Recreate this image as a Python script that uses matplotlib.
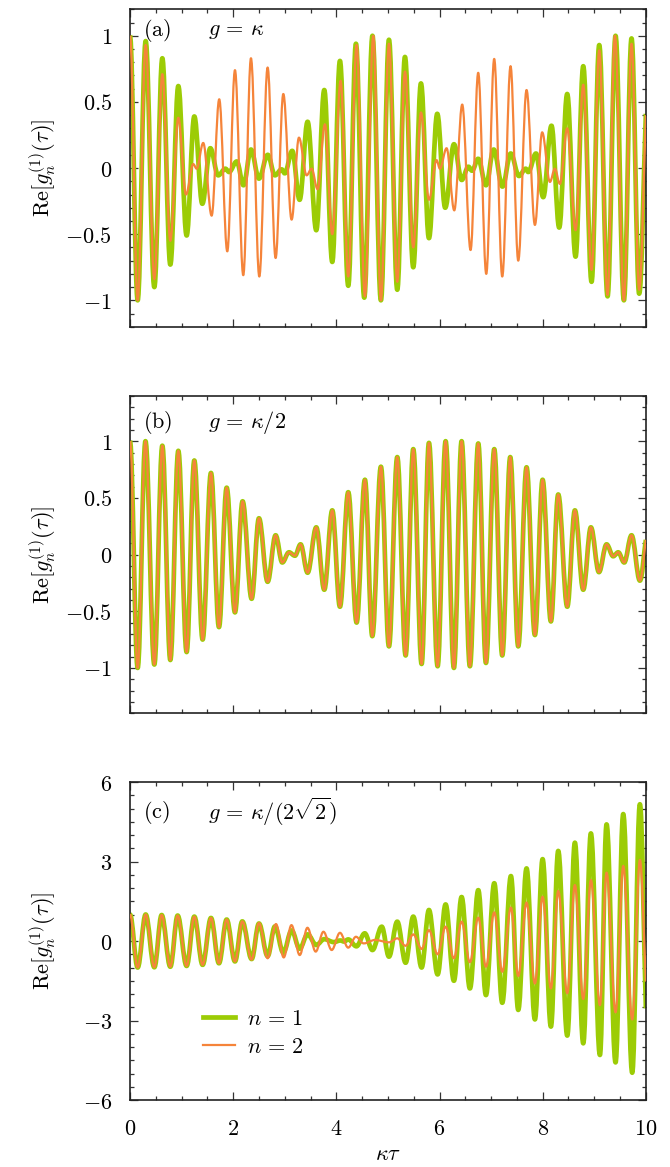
import matplotlib
matplotlib.use("Agg")
import matplotlib.pyplot as plt
from matplotlib.path import Path
from matplotlib.patches import PathPatch
from matplotlib.lines import Line2D
from matplotlib.ticker import MultipleLocator, FixedLocator, FixedFormatter

plt.rcParams['mathtext.fontset'] = 'cm'
plt.rcParams['font.family'] = ['DejaVu Serif']

# ---------------- data: successive extrema (tau, value) -------------
# panel (a)  g = kappa
a_n1_tau = [0.000, 0.149, 0.304, 0.472, 0.627, 0.782, 0.937, 1.098, 1.247, 1.402,
            1.557, 1.710, 1.850, 1.920, 2.070, 2.200, 2.345, 2.500, 2.670, 2.810,
            2.940, 3.000, 3.145, 3.288, 3.443, 3.611, 3.766, 3.921, 4.070, 4.231,
            4.380, 4.541, 4.700, 4.864, 5.020, 5.181, 5.330, 5.491, 5.640, 5.795,
            5.956, 6.110, 6.280, 6.430, 6.560, 6.630, 6.750, 6.900, 7.050, 7.220,
            7.380, 7.540, 7.670, 7.720, 7.870, 8.010, 8.170, 8.320, 8.475, 8.637,
            8.786, 8.947, 9.096, 9.257, 9.412, 9.574, 9.722, 9.870, 10.000]
a_n1_val = [1.00, -1.00, 0.96, -0.90, 0.83, -0.73, 0.62, -0.51, 0.39, -0.27,
            0.15, -0.055, -0.005, -0.03, 0.05, -0.13, 0.14, -0.08, 0.10, -0.055,
            -0.01, -0.04, 0.13, -0.24, 0.35, -0.47, 0.59, -0.71, 0.81, -0.89,
            0.94, -0.98, 1.00, -1.00, 0.97, -0.92, 0.84, -0.75, 0.64, -0.53,
            0.41, -0.30, 0.18, -0.09, 0.01, -0.02, 0.07, -0.13, 0.14, -0.14,
            0.11, -0.06, -0.005, -0.03, 0.11, -0.22, 0.32, -0.45, 0.56, -0.67,
            0.77, -0.86, 0.93, -0.97, 1.00, -1.00, 0.98, -0.95, 0.41]

a_n2_tau = [0.000, 0.149, 0.304, 0.472, 0.627, 0.782, 0.937, 1.085, 1.227, 1.292,
            1.420, 1.583, 1.730, 1.886, 2.035, 2.196, 2.345, 2.507, 2.668, 2.823,
            2.972, 3.133, 3.275, 3.424, 3.520, 3.637, 3.779, 3.921, 4.083, 4.231,
            4.393, 4.554, 4.716, 4.864, 5.020, 5.181, 5.330, 5.491, 5.640, 5.795,
            5.943, 6.008, 6.137, 6.286, 6.440, 6.602, 6.750, 6.906, 7.060, 7.216,
            7.377, 7.526, 7.687, 7.849, 7.990, 8.140, 8.236, 8.333, 8.475, 8.637,
            8.786, 8.947, 9.096, 9.257, 9.400, 9.574, 9.722, 9.870, 10.000]
a_n2_val = [1.00, -1.00, 0.93, -0.84, 0.71, -0.55, 0.38, -0.20, 0.03, -0.005,
            0.19, -0.36, 0.52, -0.63, 0.74, -0.81, 0.83, -0.82, 0.76, -0.68,
            0.56, -0.39, 0.23, -0.055, -0.005, -0.16, 0.33, -0.50, 0.66, -0.82,
            0.93, -0.97, 1.00, -1.00, 0.94, -0.86, 0.73, -0.60, 0.42, -0.24,
            0.06, -0.005, 0.15, -0.32, 0.48, -0.62, 0.72, -0.80, 0.825, -0.82,
            0.77, -0.70, 0.59, -0.43, 0.27, -0.105, -0.005, -0.12, 0.30, -0.47,
            0.63, -0.77, 0.89, -0.96, 1.00, -1.00, 0.94, -0.92, 0.40]

# panel (b)  g = kappa/2
b_n1_tau = [0.000, 0.149, 0.300, 0.472, 0.627, 0.782, 0.937, 1.098, 1.247, 1.408,
            1.570, 1.725, 1.874, 2.035, 2.183, 2.358, 2.500, 2.668, 2.823, 2.952,
            3.081, 3.198, 3.307, 3.443, 3.611, 3.766, 3.921, 4.070, 4.231, 4.393,
            4.554, 4.697, 4.864, 5.020, 5.181, 5.343, 5.491, 5.653, 5.795, 5.963,
            6.118, 6.279, 6.428, 6.589, 6.751, 6.900, 7.061, 7.216, 7.371, 7.526,
            7.687, 7.849, 7.998, 8.159, 8.301, 8.476, 8.624, 8.786, 8.934, 9.090,
            9.238, 9.367, 9.464, 9.580, 9.722, 9.884, 10.000]
b_n1_val = [1.00, -1.00, 1.00, -0.97, 0.96, -0.93, 0.915, -0.86, 0.83, -0.75,
            0.72, -0.64, 0.59, -0.51, 0.47, -0.39, 0.32, -0.24, 0.17, -0.07,
            0.02, -0.01, 0.09, -0.16, 0.24, -0.31, 0.39, -0.46, 0.55, -0.60,
            0.66, -0.72, 0.775, -0.81, 0.86, -0.89, 0.93, -0.965, 0.985, -0.985,
            1.00, -1.00, 1.00, -0.985, 0.98, -0.956, 0.93, -0.89, 0.86, -0.81,
            0.77, -0.71, 0.66, -0.59, 0.53, -0.46, 0.39, -0.31, 0.24, -0.155,
            0.09, -0.015, 0.02, -0.07, 0.17, -0.23, 0.13]
b_n2_tau = list(b_n1_tau)
b_n2_val = list(b_n1_val)

# panel (c)  g = kappa/(2 sqrt 2)
c_n1_tau = [0.000, 0.149, 0.304, 0.472, 0.614, 0.782, 0.924, 1.098, 1.247, 1.408,
            1.570, 1.725, 1.874, 2.035, 2.177, 2.358, 2.500, 2.668, 2.810, 2.972,
            3.133, 3.288, 3.443, 3.611, 3.766, 3.950, 4.080, 4.150, 4.230, 4.390,
            4.550, 4.700, 4.880, 5.020, 5.181, 5.343, 5.491, 5.653, 5.795, 5.963,
            6.118, 6.279, 6.428, 6.589, 6.751, 6.900, 7.061, 7.216, 7.384, 7.526,
            7.687, 7.849, 7.998, 8.159, 8.301, 8.476, 8.624, 8.786, 8.934, 9.109,
            9.238, 9.412, 9.561, 9.735, 9.884, 10.000]
c_n1_val = [1.00, -1.00, 1.00, -0.99, 0.98, -0.97, 0.96, -0.94, 0.92, -0.90,
            0.87, -0.84, 0.81, -0.77, 0.74, -0.68, 0.66, -0.57, 0.55, -0.44,
            0.40, -0.29, 0.25, -0.15, 0.07, -0.04, 0.02, -0.02, 0.06, -0.20,
            0.29, -0.34, 0.54, -0.59, 0.73, -0.82, 0.92, -1.00, 1.17, -1.26,
            1.38, -1.50, 1.66, -1.79, 1.92, -2.04, 2.18, -2.33, 2.45, -2.60,
            2.74, -2.96, 3.09, -3.23, 3.40, -3.57, 3.71, -3.86, 4.06, -4.30,
            4.40, -4.58, 4.79, -4.97, 5.16, -2.54]

c_n2_tau = [0.000, 0.149, 0.304, 0.472, 0.614, 0.782, 0.924, 1.098, 1.247, 1.408,
            1.570, 1.725, 1.874, 2.035, 2.177, 2.358, 2.500, 2.668, 2.830, 2.980,
            3.130, 3.290, 3.440, 3.600, 3.750, 3.910, 4.070, 4.230, 4.380, 4.530,
            4.750, 5.020, 5.181, 5.343, 5.491, 5.653, 5.795, 5.963, 6.118, 6.279,
            6.428, 6.589, 6.751, 6.900, 7.061, 7.216, 7.384, 7.526, 7.687, 7.849,
            7.998, 8.159, 8.301, 8.476, 8.624, 8.786, 8.934, 9.109, 9.238, 9.412,
            9.561, 9.735, 9.884, 10.000]
c_n2_val = [1.00, -1.00, 1.00, -0.99, 0.98, -0.97, 0.96, -0.94, 0.92, -0.90,
            0.87, -0.84, 0.81, -0.77, 0.74, -0.70, 0.68, -0.65, 0.64, -0.62,
            0.60, -0.53, 0.50, -0.40, 0.35, -0.34, 0.31, -0.25, 0.16, -0.09,
            0.04, -0.05, 0.10, -0.18, 0.25, -0.30, 0.41, -0.50, 0.54, -0.65,
            0.73, -0.80, 0.88, -0.97, 1.08, -1.16, 1.26, -1.32, 1.45, -1.60,
            1.67, -1.79, 1.89, -1.97, 2.11, -2.19, 2.30, -2.42, 2.58, -2.69,
            2.83, -2.96, 3.06, -1.53]

panel_tags = [r'$(\mathrm{a})$', r'$(\mathrm{b})$', r'$(\mathrm{c})$']
panel_titles = [r'$g\,=\,\kappa$', r'$g\,=\,\kappa/2$', r'$g\,=\,\kappa/(2\sqrt{2})$']
series_labels = [r'$n\,=\,1$', r'$n\,=\,2$']
x_ticks = [0, 2, 4, 6, 8, 10]
y_ticks_ab = [-1, -0.5, 0, 0.5, 1]
y_ticks_c = [-6, -3, 0, 3, 6]

GREEN = '#9ccc05'
ORANGE = '#f5843a'
LW1, LW2 = 3.4, 1.6
FS = 16


def wave_path(tau, val, k=0.3634):
    """Smooth path through successive extrema (horizontal tangent at each extremum)."""
    verts = [(tau[0], val[0])]
    codes = [Path.MOVETO]
    n = len(tau)
    for i in range(n - 1):
        t0, y0, t1, y1 = tau[i], val[i], tau[i + 1], val[i + 1]
        dt = t1 - t0
        c1 = (t0 + k * dt, y0)
        if i + 1 == n - 1:
            c2 = (t1 - dt / 3.0, y1 - (y1 - y0) / 3.0)
        else:
            c2 = (t1 - k * dt, y1)
        verts += [c1, c2, (t1, y1)]
        codes += [Path.CURVE4] * 3
    return Path(verts, codes)


def fmt(v):
    s = ('%g' % v)
    if v < 0:
        s = s.replace('-', '')
        return r'$-' + s + '$'
    return '$' + s + '$'


fig = plt.figure(figsize=(6.7, 11.67), dpi=100)
rects = [[0.194, 0.720, 0.770, 0.272],
         [0.194, 0.3888, 0.770, 0.272],
         [0.194, 0.0574, 0.770, 0.2725]]

data = [((a_n1_tau, a_n1_val), (a_n2_tau, a_n2_val), 1.2, y_ticks_ab, 0.1),
        ((b_n1_tau, b_n1_val), (b_n2_tau, b_n2_val), 1.4, y_ticks_ab, 0.1),
        ((c_n1_tau, c_n1_val), (c_n2_tau, c_n2_val), 6.0, y_ticks_c, 0.5)]
tag_y = [0.934, 0.915, 0.905]

for i, (rect, (s1, s2, ylim, yt, ymin)) in enumerate(zip(rects, data)):
    ax = fig.add_axes(rect)
    ax.add_patch(PathPatch(wave_path(*s1), facecolor='none', edgecolor=GREEN,
                           lw=LW1, joinstyle='round', capstyle='butt', zorder=2))
    ax.add_patch(PathPatch(wave_path(*s2), facecolor='none', edgecolor=ORANGE,
                           lw=LW2, joinstyle='round', capstyle='butt', zorder=3))
    ax.set_xlim(0, 10)
    ax.set_ylim(-ylim, ylim)
    ax.xaxis.set_major_locator(FixedLocator(x_ticks))
    ax.xaxis.set_minor_locator(MultipleLocator(0.5))
    ax.yaxis.set_major_locator(FixedLocator(yt))
    ax.yaxis.set_major_formatter(FixedFormatter([fmt(v) for v in yt]))
    ax.yaxis.set_minor_locator(MultipleLocator(ymin))
    if i == 2:
        ax.xaxis.set_major_formatter(FixedFormatter([fmt(v) for v in x_ticks]))
        ax.set_xlabel(r'$\kappa\tau$', fontsize=FS, labelpad=2)
    else:
        ax.set_xticklabels([])
    ax.tick_params(which='both', direction='in', top=True, right=True,
                   labelsize=FS, pad=13, width=0.9, color='#333333')
    ax.tick_params(which='major', length=5.5)
    ax.tick_params(which='minor', length=3.2)
    for sp in ax.spines.values():
        sp.set_linewidth(1.2)
        sp.set_color('#222222')
    ax.set_ylabel(r'$\mathrm{Re}[g_n^{(1)}(\tau)]$', fontsize=FS)
    ax.yaxis.set_label_coords(-0.14, 0.5)
    ax.text(0.025, tag_y[i], panel_tags[i], transform=ax.transAxes,
            fontsize=FS, ha='left', va='center')
    ax.text(0.151, tag_y[i], panel_titles[i], transform=ax.transAxes,
            fontsize=FS, ha='left', va='center')
    if i == 2:
        handles = [Line2D([], [], color=GREEN, lw=LW1),
                   Line2D([], [], color=ORANGE, lw=LW2)]
        ax.legend(handles, series_labels, loc='center left',
                  bbox_to_anchor=(0.141, 0.211), frameon=False, fontsize=FS,
                  handlelength=1.45, handletextpad=0.55, labelspacing=0.25,
                  borderpad=0, borderaxespad=0)

fig.savefig('out.png', dpi=100)
